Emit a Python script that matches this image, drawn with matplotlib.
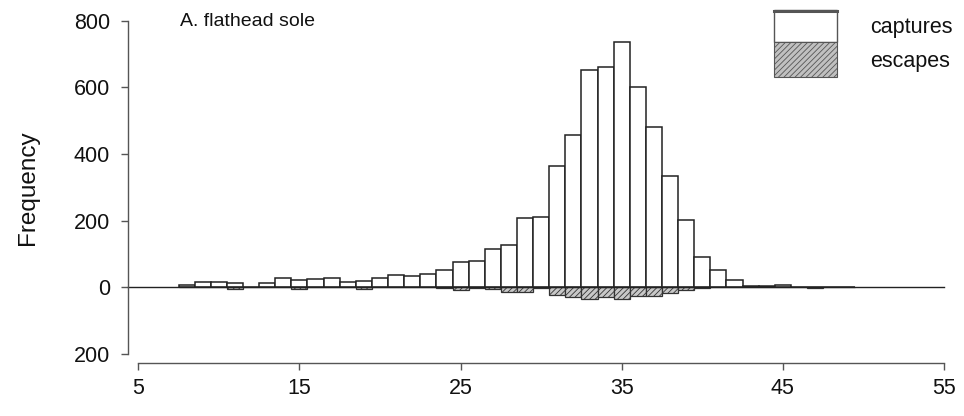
import numpy as np
import matplotlib
matplotlib.use("Agg")
from matplotlib import pyplot as plt
from matplotlib.patches import Rectangle

plt.rcParams['font.family'] = ['Liberation Sans', 'DejaVu Sans']
plt.rcParams['hatch.linewidth'] = 0.6

# length classes (cm), bin centres
lengths = list(range(8, 50))
captures = [7, 17, 17, 12, 2, 12, 27, 22, 25, 27, 17, 20, 27, 36, 34, 40, 52, 75,
            80, 115, 128, 208, 210, 364, 457, 653, 662, 735, 602, 480, 334, 202,
            92, 52, 23, 5, 3, 8, 1, 0, 1, 1]
escapes = [0, 0, 0, 5, 0, 0, 0, 5, 0, 0, 0, 4, 0, 0, 0, 0, 2, 9, 2, 4, 13, 13,
           3, 24, 30, 36, 28, 36, 25, 25, 16, 8, 2, 0, 0, 0, 0, 0, 0, 3, 0, 0]
xticks = [5, 15, 25, 35, 45, 55]
yticks = [800, 600, 400, 200, 0, -200]
ytick_labels = ['800', '600', '400', '200', '0', '200']

W, H = 964, 416
fig = plt.figure(figsize=(W / 100, H / 100), dpi=100)
ax = fig.add_axes([138.3 / W, (H - 354) / H, (944 - 138.3) / W, (354 - 20.7) / H])

ax.bar(lengths, captures, width=1.0, facecolor='white', edgecolor='#222222',
       linewidth=1.1)
ax.bar(lengths, [-e for e in escapes], width=1.0, facecolor='#c8c8c8',
       edgecolor='#333333', linewidth=0.9, hatch='//////')
ax.axhline(0, xmin=-0.0125, xmax=1.0, color='#222222', lw=1.0, clip_on=False)

ax.set_xlim(5, 55)
ax.set_ylim(-200, 800)
ax.set_xticks(xticks)
ax.set_yticks(yticks)
ax.set_yticklabels(ytick_labels)

for s in ['top', 'right']:
    ax.spines[s].set_visible(False)
ax.spines['left'].set_position(('outward', 7.5))
ax.spines['bottom'].set_position(('outward', 6.2))
for s in ['left', 'bottom']:
    ax.spines[s].set_color('#555555')
    ax.spines[s].set_linewidth(1.0)
ax.tick_params(axis='both', direction='out', length=5, width=1.0,
               color='#555555', labelsize=15.5, labelcolor='#111111')
ax.tick_params(axis='y', pad=8)
ax.tick_params(axis='x', pad=6)

ax.set_ylabel('Frequency', fontsize=17.5, color='#111111', labelpad=25)

fig.text(180 / W, 1 - 21.7 / H, 'A. flathead sole', fontsize=14,
         va='center', ha='left', color='#111111')

# legend
def px_rect(x0, y0, x1, y1, **kw):
    r = Rectangle((x0 / W, 1 - y1 / H), (x1 - x0) / W, (y1 - y0) / H,
                  transform=fig.transFigure, **kw)
    fig.add_artist(r)

px_rect(774, 10, 837, 42, facecolor='white', edgecolor='#555555', lw=1.0)
fig.add_artist(plt.Line2D([774 / W, 837 / W], [1 - 10.5 / H, 1 - 10.5 / H],
                          transform=fig.transFigure, color='#555555', lw=2.2))
px_rect(774, 42, 837, 77, facecolor='#c0c0c0', edgecolor='#555555', lw=0.8,
        hatch='//////')
fig.text(870 / W, 1 - 27 / H, 'captures', fontsize=15.5, va='center', ha='left',
         color='#111111')
fig.text(870 / W, 1 - 62 / H, 'escapes', fontsize=15.5, va='center', ha='left',
         color='#111111')

fig.savefig('out.png', dpi=100)
